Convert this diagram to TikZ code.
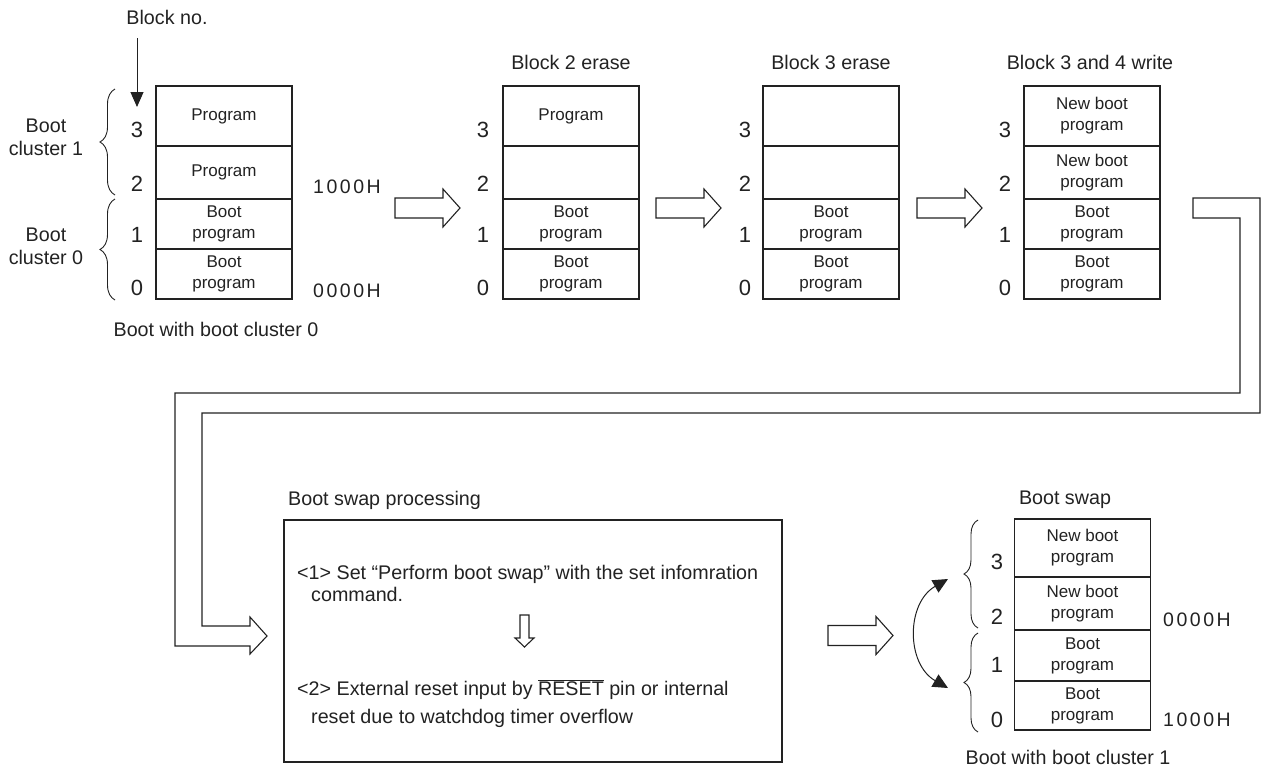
\documentclass[tikz,border=0pt]{standalone}
\usepackage{fontspec}
\setmainfont{Liberation Sans}
\newfontfamily\addrfont[LetterSpace=13]{Liberation Sans}
\usetikzlibrary{arrows.meta,decorations.pathreplacing}
\definecolor{ink}{HTML}{222222}

\begin{document}
\begin{tikzpicture}[x=1pt,y=-1pt,
  cell/.style={draw=ink, line width=1.1pt, minimum width=136pt, inner sep=0pt,
    align=center, text=ink, font=\fontsize{17}{21}\selectfont},
  lbl/.style={text=ink, inner sep=0pt, font=\fontsize{19.7}{23}\selectfont},
  num/.style={text=ink, inner sep=0pt, font=\fontsize{22}{24}\selectfont},
  addr/.style={text=ink, inner sep=0pt, font=\addrfont\fontsize{19.5}{22}\selectfont},
  hollow/.style={draw=ink, line width=1.1pt, fill=white, line join=miter},
  bracket/.style={draw=ink, line width=0.9pt, decorate, decoration={brace, amplitude=#1}},
  pics/flowarrow/.style={code={
    \draw[hollow] (0,-10) -- (48,-10) -- (48,-19) -- (65,0) -- (48,19) -- (48,10) -- (0,10) -- cycle;}},
]
\useasboundingbox (0,0) rectangle (1262,769);

% ---------- initial state ----------
\node[lbl] (blockno) at (167,17) {Block no.};
\coordinate (bn-from) at (137,38);
\coordinate (bn-to) at (137,107);
\draw[ink, line width=1pt, -{Triangle[length=15pt,width=13pt]}] (bn-from) -- (bn-to);

\node[cell, minimum height=60pt] (a3) at (224,116) {Program};
\node[cell, minimum height=53pt] (a2) at (224,172.5) {Program};
\node[cell, minimum height=50pt] (a1) at (224,224) {Boot\\program};
\node[cell, minimum height=50pt] (a0) at (224,274) {Boot\\program};
\node[num] (na3) at (137,130) {3};
\node[num] (na2) at (137,184) {2};
\node[num] (na1) at (137,235) {1};
\node[num] (na0) at (137,288) {0};

\draw[bracket=15pt] (115,195) -- (115,89);
\draw[bracket=15pt] (115,300) -- (115,199);
\node[lbl, align=center] (bc1) at (46,137.5) {Boot\\cluster 1};
\node[lbl, align=center] (bc0) at (46,246) {Boot\\cluster 0};

\node[addr] (adA1) at (347,187) {1000H};
\node[addr] (adA0) at (347,291) {0000H};
\node[lbl] (bootA) at (216,329) {Boot with boot cluster 0};

\pic at (395,208) {flowarrow};

% ---------- block 2 erase ----------
\node[lbl] (lblB) at (571,62) {Block 2 erase};
\node[cell, minimum height=60pt] (b3) at (571,116) {Program};
\node[cell, minimum height=53pt] (b2) at (571,172.5) {};
\node[cell, minimum height=50pt] (b1) at (571,224) {Boot\\program};
\node[cell, minimum height=50pt] (b0) at (571,274) {Boot\\program};
\node[num] (nb3) at (483,130) {3};
\node[num] (nb2) at (483,184) {2};
\node[num] (nb1) at (483,235) {1};
\node[num] (nb0) at (483,288) {0};

\pic at (656,208) {flowarrow};

% ---------- block 3 erase ----------
\node[lbl] (lblC) at (831,62) {Block 3 erase};
\node[cell, minimum height=60pt] (c3) at (831,116) {};
\node[cell, minimum height=53pt] (c2) at (831,172.5) {};
\node[cell, minimum height=50pt] (c1) at (831,224) {Boot\\program};
\node[cell, minimum height=50pt] (c0) at (831,274) {Boot\\program};
\node[num] (nc3) at (745,130) {3};
\node[num] (nc2) at (745,184) {2};
\node[num] (nc1) at (745,235) {1};
\node[num] (nc0) at (745,288) {0};

\pic at (917,208) {flowarrow};

% ---------- block 3 and 4 write ----------
\node[lbl] (lblD) at (1090,62) {Block 3 and 4 write};
\node[cell, minimum height=60pt] (d3) at (1092,116) {New boot\\program};
\node[cell, minimum height=53pt] (d2) at (1092,172.5) {New boot\\program};
\node[cell, minimum height=50pt] (d1) at (1092,224) {Boot\\program};
\node[cell, minimum height=50pt] (d0) at (1092,274) {Boot\\program};
\node[num] (nd3) at (1005,130) {3};
\node[num] (nd2) at (1005,184) {2};
\node[num] (nd1) at (1005,235) {1};
\node[num] (nd0) at (1005,288) {0};

% ---------- wrap-around arrow ----------
\draw[hollow] (1193,198) -- (1260,198) -- (1260,413) -- (202,413) -- (202,626)
  -- (250,626) -- (250,617) -- (267,636) -- (250,654) -- (250,646) -- (175,646)
  -- (175,393) -- (1240,393) -- (1240,218) -- (1193,218) -- cycle;

% ---------- boot swap processing ----------
\node[lbl, anchor=west] (lblP) at (288,500) {Boot swap processing};
\node[draw=ink, line width=1.1pt, minimum width=498pt, minimum height=242pt, inner sep=0pt] (proc) at (533,641) {};
\begin{scope}[every node/.style={lbl, anchor=base west}]
  \node (s1a) at (297,579) {<1> Set “Perform boot swap” with the set infomration};
  \node (s1b) at (311,601) {command.};
  \node (s2a) at (297,695) {<2> External reset input by $\overline{\hbox{RESET}}$ pin or internal};
  \node (s2b) at (311,723) {reset due to watchdog timer overflow};
\end{scope}
\draw[hollow] (520,615) -- (529,615) -- (529,638) -- (534,638) -- (524.5,647)
  -- (515,638) -- (520,638) -- cycle;

\pic at (828,635.5) {flowarrow};

% ---------- boot swap result ----------
\node[lbl] (lblE) at (1065,500) {Boot swap};
\node[cell, minimum height=58pt] (e3) at (1082.5,548) {New boot\\program};
\node[cell, minimum height=53pt] (e2) at (1082.5,603.5) {New boot\\program};
\node[cell, minimum height=51pt] (e1) at (1082.5,655.5) {Boot\\program};
\node[cell, minimum height=49pt] (e0) at (1082.5,705.5) {Boot\\program};
\node[num] (ne3) at (997,562) {3};
\node[num] (ne2) at (997,617) {2};
\node[num] (ne1) at (997,665) {1};
\node[num] (ne0) at (997,720) {0};

\draw[bracket=14pt] (978,628) -- (978,520);
\draw[bracket=14pt] (978,732) -- (978,633);

\coordinate (swapTop) at (948,579);
\coordinate (swapBot) at (948,688);
\draw[ink, line width=1pt, {Triangle[length=15pt,width=14pt]}-{Triangle[length=15pt,width=14pt]}]
  (swapTop) .. controls (906,603) and (906,664) .. (swapBot);

\node[addr] (adE0) at (1197,620) {0000H};
\node[addr] (adE1) at (1197,720) {1000H};
\node[lbl] (bootE) at (1068,757) {Boot with boot cluster 1};
\end{tikzpicture}
\end{document}
